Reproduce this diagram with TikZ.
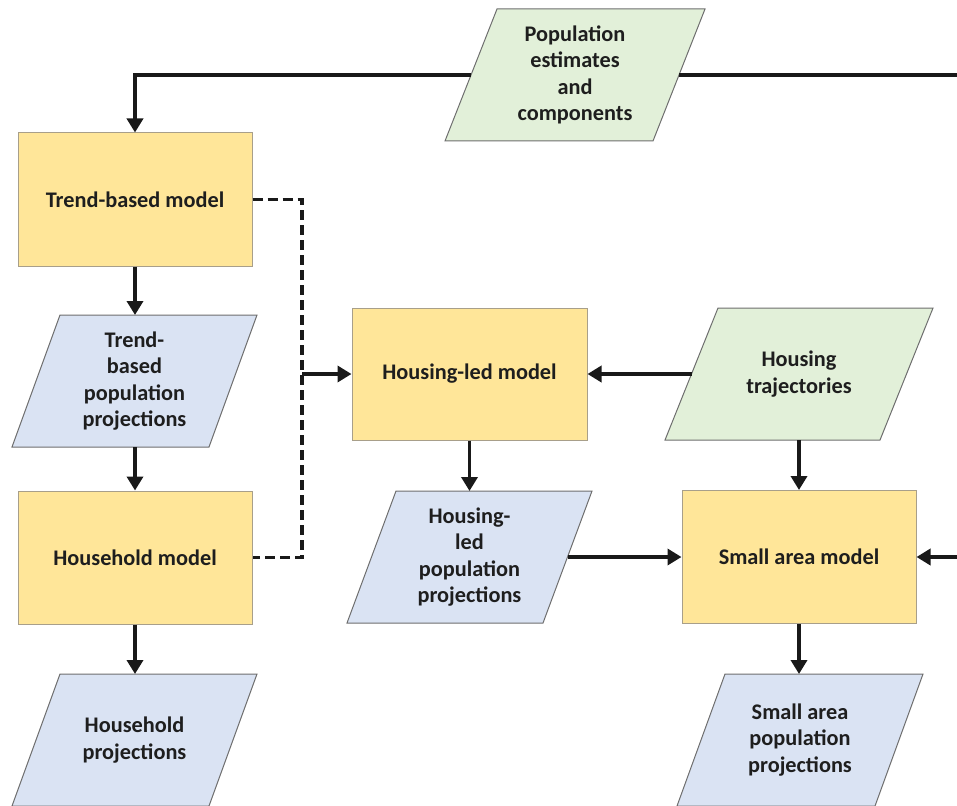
\documentclass[tikz,border=0pt]{standalone}
\usepackage{fontspec}
\setmainfont{Carlito}
\usetikzlibrary{arrows.meta,backgrounds}
\definecolor{boxyellow}{HTML}{FFE699}
\definecolor{boxblue}{HTML}{DAE3F3}
\definecolor{boxgreen}{HTML}{E2F0D9}
\definecolor{modeledge}{HTML}{A89F8A}
\definecolor{paraedge}{HTML}{6E6E6E}
\definecolor{txtcol}{HTML}{1E1E1E}
\newcommand\paragram[3]{\filldraw[fill=#2, draw=paraedge, line width=1pt] ([xshift=#3pt]#1.north west) -- (#1.north east) -- ([xshift=-#3pt]#1.south east) -- (#1.south west) -- cycle;}
\begin{document}
\begin{tikzpicture}[x=1pt,y=-1pt,
 txt/.style={font=\fontsize{22.3}{26.3}\selectfont\bfseries, align=center, inner sep=0pt, text=txtcol},
 model/.style={txt, draw=modeledge, fill=boxyellow, line width=1pt, minimum width=234pt, minimum height=133pt},
 para/.style={txt, minimum height=132pt, outer sep=0pt},
 flow/.style={line width=3.6pt, draw=black!90, -{Triangle[length=14pt,width=16pt]}},
 plainflow/.style={line width=3.6pt, draw=black!90},
 dashflow/.style={line width=3.6pt, draw=black!90, dash pattern=on 10pt off 5pt}
]
\useasboundingbox (0,0) rectangle (957,805);
\clip (0,0) rectangle (957,805);

% models
\node[model] (trend) at (135,199.5) {Trend-based model};
\node[model] (hh) at (135,557.5) {Household model};
\node[model, minimum width=235pt, minimum height=132pt] (hled) at (469.5,374) {Housing-led model};
\node[model] (sam) at (799,557) {Small area model};

% data (parallelograms)
\node[para, minimum width=260pt] (pop) at (575,75) {Population\\estimates\\and\\components};
\node[para, minimum width=245pt] (tproj) at (134.5,381) {Trend-\\based\\population\\projections};
\node[para, minimum width=245pt] (hhproj) at (134.5,740) {Household\\projections};
\node[para, minimum width=268pt] (htraj) at (799,374) {Housing\\trajectories};
\node[para, minimum width=245pt] (hlproj) at (469.5,557) {Housing-\\led\\population\\projections};
\node[para, minimum width=246pt] (saproj) at (800,740) {Small area\\population\\projections};

\begin{scope}[on background layer]
\paragram{pop}{boxgreen}{52}
\paragram{tproj}{boxblue}{48}
\paragram{hhproj}{boxblue}{48}
\paragram{htraj}{boxgreen}{53}
\paragram{hlproj}{boxblue}{49}
\paragram{saproj}{boxblue}{48}
\end{scope}

\coordinate (edgeA) at (962,75);
\coordinate (edgeB) at (962,557);
\coordinate (djoin) at (302,374);

% connectors
\draw[flow] ([xshift=26pt]pop.west) -| (trend.north);
\draw[plainflow] ([xshift=-26pt]pop.east) -- (edgeA);
\draw[flow] (trend.south) -- (trend.south |- tproj.north);
\draw[flow] (hh.north |- tproj.south) -- (hh.north);
\draw[flow] (hh.south) -- (hh.south |- hhproj.north);
\draw[dashflow] (trend.east) -| (djoin) |- (hh.east);
\draw[flow] (djoin) -- (hled.west);
\draw[flow] ([xshift=26.5pt]htraj.west) -- (hled.east);
\draw[flow] (hled.south) -- (hled.south |- hlproj.north);
\draw[flow] ([xshift=-24.5pt]hlproj.east) -- (sam.west);
\draw[flow] (htraj.south) -- (htraj.south |- sam.north);
\draw[flow] (edgeB) -- (sam.east);
\draw[flow] (sam.south) -- (sam.south |- saproj.north);
\end{tikzpicture}
\end{document}
